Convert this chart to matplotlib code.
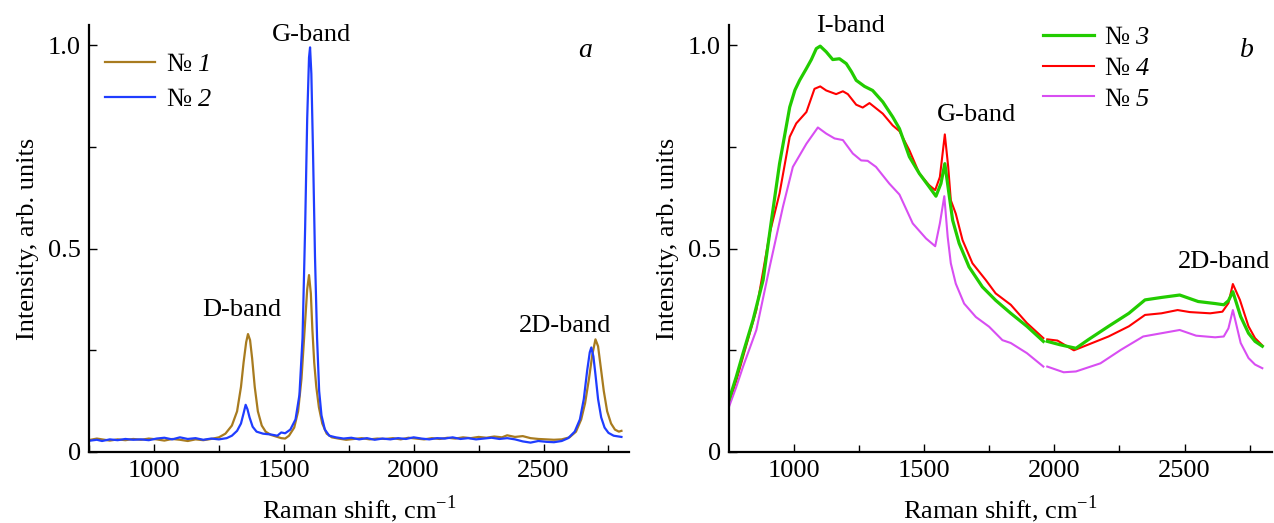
import numpy as np
import matplotlib
matplotlib.use('Agg')
import matplotlib.pyplot as plt
from matplotlib.ticker import MultipleLocator

plt.rcParams['font.family'] = ['Liberation Serif', 'DejaVu Serif']
plt.rcParams['mathtext.fontset'] = 'custom'
plt.rcParams['mathtext.rm'] = 'Liberation Serif'
# mathtext forces digits upright in \mathit, so borrow \mathsf for the italic numbers
plt.rcParams['mathtext.sf'] = 'Liberation Serif:italic'
plt.rcParams['font.size'] = 19
plt.rcParams['lines.solid_joinstyle'] = 'round'

# %% panel a, samples 1 and 2
x1 = [756, 780, 800, 830, 860, 890, 920, 950, 980, 1010, 1040, 1070, 1100, 1130, 1160,
      1190, 1220, 1250, 1275, 1300, 1320, 1335, 1345, 1355, 1362, 1370, 1378, 1388, 1400,
      1415, 1430, 1450, 1470, 1490, 1505, 1520, 1540, 1555, 1568, 1580, 1590, 1597, 1604,
      1610, 1617, 1625, 1635, 1648, 1665, 1685, 1710, 1740, 1770, 1800, 1830, 1860, 1890,
      1920, 1950, 1980, 2010, 2040, 2070, 2100, 2130, 2160, 2190, 2220, 2250, 2280, 2310,
      2340, 2360, 2390, 2420, 2450, 2480, 2510, 2540, 2570, 2600, 2625, 2645, 2660, 2675,
      2688, 2700, 2710, 2720, 2732, 2745, 2760, 2775, 2790, 2800]
y1 = [0.030, 0.033, 0.031, 0.028, 0.031, 0.029, 0.032, 0.030, 0.033, 0.031, 0.028, 0.032,
      0.030, 0.027, 0.031, 0.029, 0.032, 0.036, 0.045, 0.065, 0.10, 0.16, 0.22, 0.27, 0.29,
      0.275, 0.23, 0.16, 0.10, 0.065, 0.05, 0.042, 0.038, 0.034, 0.033, 0.04, 0.06, 0.10,
      0.18, 0.30, 0.40, 0.435, 0.39, 0.30, 0.22, 0.16, 0.11, 0.07, 0.045, 0.036, 0.033,
      0.030, 0.032, 0.034, 0.031, 0.033, 0.032, 0.034, 0.031, 0.035, 0.033, 0.031, 0.034,
      0.032, 0.035, 0.033, 0.036, 0.034, 0.037, 0.035, 0.038, 0.036, 0.041, 0.037, 0.039,
      0.034, 0.032, 0.031, 0.030, 0.031, 0.036, 0.05, 0.08, 0.12, 0.18, 0.24, 0.277, 0.26,
      0.21, 0.15, 0.10, 0.07, 0.055, 0.05, 0.052]

x2 = [756, 780, 800, 830, 860, 890, 920, 950, 980, 1010, 1040, 1070, 1100, 1130, 1160,
      1190, 1220, 1250, 1280, 1300, 1320, 1335, 1345, 1353, 1360, 1368, 1380, 1395, 1420,
      1450, 1475, 1490, 1505, 1525, 1545, 1560, 1572, 1582, 1590, 1597, 1601, 1606, 1612,
      1620, 1628, 1636, 1645, 1658, 1675, 1700, 1730, 1760, 1790, 1820, 1850, 1880, 1910,
      1940, 1970, 2000, 2030, 2060, 2090, 2120, 2150, 2180, 2210, 2240, 2270, 2300, 2330,
      2360, 2390, 2420, 2450, 2480, 2510, 2540, 2570, 2595, 2620, 2640, 2655, 2668, 2678,
      2684, 2692, 2700, 2710, 2722, 2735, 2750, 2770, 2790, 2800]
y2 = [0.028, 0.030, 0.027, 0.031, 0.029, 0.032, 0.030, 0.031, 0.029, 0.033, 0.035, 0.031,
      0.036, 0.032, 0.034, 0.030, 0.033, 0.031, 0.034, 0.040, 0.052, 0.07, 0.095, 0.116,
      0.105, 0.085, 0.062, 0.05, 0.045, 0.043, 0.040, 0.048, 0.046, 0.055, 0.08, 0.14, 0.28,
      0.55, 0.82, 0.97, 0.995, 0.93, 0.75, 0.48, 0.28, 0.15, 0.09, 0.055, 0.04, 0.036,
      0.033, 0.035, 0.031, 0.034, 0.030, 0.033, 0.031, 0.034, 0.032, 0.036, 0.033, 0.031,
      0.034, 0.033, 0.036, 0.032, 0.034, 0.031, 0.033, 0.035, 0.032, 0.034, 0.031, 0.026,
      0.023, 0.027, 0.025, 0.024, 0.027, 0.034, 0.05, 0.08, 0.13, 0.20, 0.245, 0.257, 0.235,
      0.19, 0.13, 0.085, 0.06, 0.047, 0.040, 0.038, 0.037]

# %% panel b, samples 3, 4, 5 (nan = gap in the record near 1965)
x3 = [752, 780, 806, 844, 883, 915, 946, 985, 1005, 1023, 1049, 1068, 1087, 1102, 1125,
      1150, 1176, 1202, 1222, 1240, 1272, 1303, 1342, 1380, 1406, 1444, 1482, 1520, 1546,
      1565, 1580, 1594, 1610, 1635, 1673, 1724, 1775, 1833, 1895, 1958, 1965, 1973, 2020,
      2083, 2130, 2208, 2286, 2348, 2411, 2481, 2552, 2617, 2650, 2668, 2685, 2715, 2745,
      2770, 2798]
y3 = [0.128, 0.185, 0.243, 0.324, 0.423, 0.57, 0.709, 0.848, 0.89, 0.914, 0.943, 0.965,
      0.992, 0.998, 0.984, 0.965, 0.967, 0.955, 0.935, 0.914, 0.899, 0.889, 0.861, 0.824,
      0.795, 0.726, 0.685, 0.652, 0.629, 0.66, 0.709, 0.644, 0.57, 0.513, 0.455, 0.406,
      0.373, 0.341, 0.309, 0.272, np.nan, 0.272, 0.264, 0.255, 0.276, 0.309, 0.341, 0.374,
      0.38, 0.386, 0.37, 0.365, 0.362, 0.372, 0.394, 0.333, 0.292, 0.272, 0.26]

x4 = [752, 780, 806, 857, 908, 946, 985, 1010, 1049, 1080, 1102, 1125, 1163, 1189, 1208,
      1240, 1265, 1291, 1342, 1380, 1406, 1444, 1482, 1520, 1543, 1561, 1580, 1593, 1603,
      1622, 1648, 1686, 1737, 1775, 1833, 1895, 1958, 1965, 1973, 2012, 2075, 2130, 2208,
      2286, 2348, 2411, 2473, 2520, 2598, 2645, 2668, 2685, 2712, 2745, 2770, 2798]
y4 = [0.12, 0.175, 0.234, 0.349, 0.537, 0.636, 0.775, 0.808, 0.836, 0.893, 0.899, 0.889,
      0.88, 0.887, 0.88, 0.854, 0.847, 0.858, 0.832, 0.803, 0.789, 0.742, 0.685, 0.656,
      0.644, 0.676, 0.781, 0.701, 0.619, 0.586, 0.521, 0.464, 0.423, 0.39, 0.362, 0.317,
      0.28, np.nan, 0.277, 0.274, 0.25, 0.264, 0.284, 0.309, 0.337, 0.341, 0.349, 0.344,
      0.341, 0.345, 0.366, 0.413, 0.374, 0.309, 0.28, 0.262]

x5 = [752, 780, 806, 857, 908, 959, 997, 1049, 1093, 1125, 1157, 1189, 1227, 1259, 1284,
      1316, 1367, 1406, 1457, 1508, 1543, 1561, 1578, 1591, 1603, 1622, 1654, 1699, 1750,
      1801, 1833, 1895, 1958, 1965, 1973, 2036, 2083, 2177, 2255, 2341, 2411, 2481, 2544,
      2617, 2650, 2668, 2685, 2715, 2745, 2770, 2798]
y5 = [0.111, 0.16, 0.21, 0.30, 0.455, 0.603, 0.701, 0.758, 0.798, 0.783, 0.771, 0.767,
      0.734, 0.717, 0.716, 0.701, 0.66, 0.633, 0.562, 0.525, 0.506, 0.562, 0.629, 0.529,
      0.464, 0.414, 0.365, 0.332, 0.308, 0.275, 0.268, 0.243, 0.21, np.nan, 0.21, 0.196,
      0.198, 0.218, 0.251, 0.284, 0.292, 0.3, 0.286, 0.282, 0.284, 0.304, 0.349, 0.268,
      0.231, 0.215, 0.206]

labels_a = ['№ $\\mathsf{1}$', '№ $\\mathsf{2}$']
labels_b = ['№ $\\mathsf{3}$', '№ $\\mathsf{4}$', '№ $\\mathsf{5}$']
colors_a = ['#a87b1f', '#1f3dff']
colors_b = ['#22cc00', '#ff0000', '#d84ef2']


def style_axes(ax, xlim):
    ax.set_xlim(*xlim)
    ax.set_ylim(0, 1.05)
    ax.spines['top'].set_visible(False)
    ax.spines['right'].set_visible(False)
    ax.spines['left'].set_linewidth(1.6)
    ax.spines['bottom'].set_linewidth(1.6)
    ax.xaxis.set_major_locator(MultipleLocator(500))
    ax.xaxis.set_minor_locator(MultipleLocator(250))
    ax.set_yticks([0, 0.5, 1.0])
    ax.set_yticklabels(['0', '0.5', '1.0'])
    ax.yaxis.set_minor_locator(MultipleLocator(0.25))
    ax.tick_params(which='both', direction='in', labelsize=19, width=1.0)
    ax.tick_params(which='major', length=6, pad=6)
    ax.tick_params(which='minor', length=5)
    ax.set_xlabel('Raman shift, cm$^{-1}$', fontsize=19, labelpad=8)
    ax.set_ylabel('Intensity, arb. units', fontsize=19, labelpad=6)


fig = plt.figure(figsize=(12.74, 5.23), dpi=100)
ax1 = fig.add_axes([0.0699, 0.1358, 0.4238, 0.8164])
ax2 = fig.add_axes([0.5722, 0.1358, 0.4262, 0.8164])

# %% panel a
ax1.plot(x1, y1, color=colors_a[0], lw=1.6, label=labels_a[0])
ax1.plot(x2, y2, color=colors_a[1], lw=1.6, label=labels_a[1])
style_axes(ax1, (750, 2829))
ax1.legend(loc='upper left', bbox_to_anchor=(0.03, 0.935), frameon=False, fontsize=19,
           handlelength=1.9, handletextpad=0.4, labelspacing=0.42, borderpad=0,
           borderaxespad=0)
ax1.text(1608, 1.025, 'G-band', ha='center', va='center', fontsize=19)
ax1.text(1338, 0.349, 'D-band', ha='center', va='center', fontsize=19)
ax1.text(2581, 0.31, '2D-band', ha='center', va='center', fontsize=19)
ax1.text(2662, 0.988, 'a', ha='center', va='center', fontsize=20, style='italic')

# %% panel b
l4, = ax2.plot(x4, y4, color=colors_b[1], lw=1.5, label=labels_b[1])
l5, = ax2.plot(x5, y5, color=colors_b[2], lw=1.5, label=labels_b[2])
l3, = ax2.plot(x3, y3, color=colors_b[0], lw=2.3, label=labels_b[0])
style_axes(ax2, (752, 2835))
ax2.legend(handles=[l3, l4, l5], loc='upper left', bbox_to_anchor=(0.579, 0.998),
           frameon=False, fontsize=19, handlelength=1.9, handletextpad=0.4,
           labelspacing=0.27, borderpad=0, borderaxespad=0)
ax2.text(1218, 1.047, 'I-band', ha='center', va='center', fontsize=19)
ax2.text(1700, 0.828, 'G-band', ha='center', va='center', fontsize=19)
ax2.text(2829, 0.467, '2D-band', ha='right', va='center', fontsize=19)
ax2.text(2737, 0.988, 'b', ha='center', va='center', fontsize=20, style='italic')

plt.savefig('out.png', dpi=100)
